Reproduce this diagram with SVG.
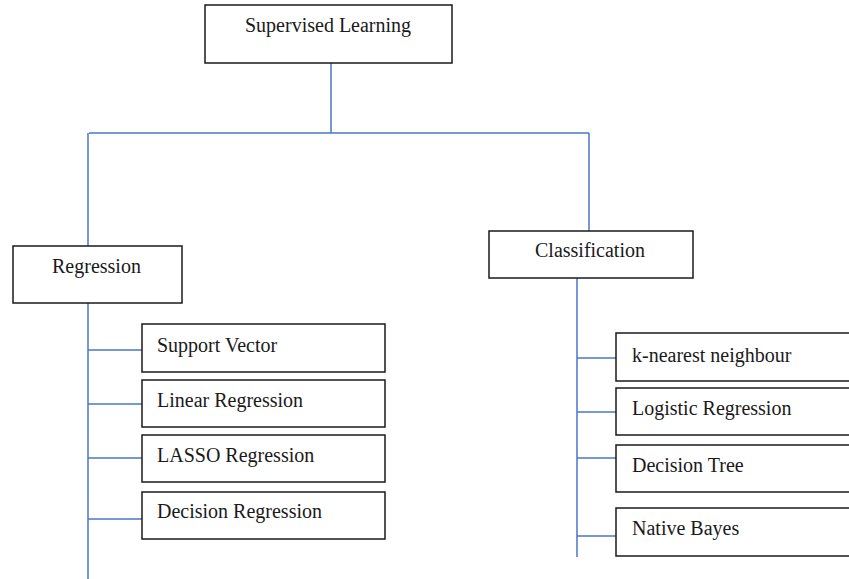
<svg xmlns="http://www.w3.org/2000/svg" width="849" height="579" viewBox="0 0 849 579">
<style>
.box{fill:#fff;stroke:#1a1a1a;stroke-width:1.5}
.t{font-family:"Liberation Serif","Times New Roman",serif;font-size:20px;fill:#1a1a1a}
.c{fill:none;stroke:#4a78c8;stroke-width:1.5}
</style>
<rect width="849" height="579" fill="#fff"/>
<g id="connectors">
<path class="c" d="M331 63V133M89 133H589M88 133V246M589 133V231M88 303V579M577 278V557"/>
<path class="c" d="M88 350H142M88 404H142M88 458H142M88 519H142"/>
<path class="c" d="M577 358H616M577 412H616M577 458H616M577 536H616"/>
</g>
<g id="supervised"><rect class="box" x="205" y="5" width="247" height="58"/><text class="t" x="245" y="32">Supervised Learning</text></g>
<g id="regression"><rect class="box" x="13" y="246" width="169" height="57"/><text class="t" x="52" y="273">Regression</text></g>
<g id="classification"><rect class="box" x="489" y="231" width="204" height="47"/><text class="t" x="535" y="257">Classification</text></g>
<g id="support-vector"><rect class="box" x="142" y="324" width="243" height="48"/><text class="t" x="157" y="352">Support Vector</text></g>
<g id="linear-regression"><rect class="box" x="142" y="380" width="243" height="47"/><text class="t" x="157" y="407">Linear Regression</text></g>
<g id="lasso-regression"><rect class="box" x="142" y="435" width="243" height="47"/><text class="t" x="157" y="462">LASSO Regression</text></g>
<g id="decision-regression"><rect class="box" x="142" y="492" width="243" height="47"/><text class="t" x="157" y="518">Decision Regression</text></g>
<g id="knn"><rect class="box" x="616" y="333" width="240" height="48"/><text class="t" x="632" y="362">k-nearest neighbour</text></g>
<g id="logistic-regression"><rect class="box" x="616" y="388" width="240" height="47"/><text class="t" x="632" y="415">Logistic Regression</text></g>
<g id="decision-tree"><rect class="box" x="616" y="445" width="240" height="47"/><text class="t" x="632" y="472">Decision Tree</text></g>
<g id="native-bayes"><rect class="box" x="616" y="508" width="240" height="48"/><text class="t" x="632" y="535">Native Bayes</text></g>
</svg>
